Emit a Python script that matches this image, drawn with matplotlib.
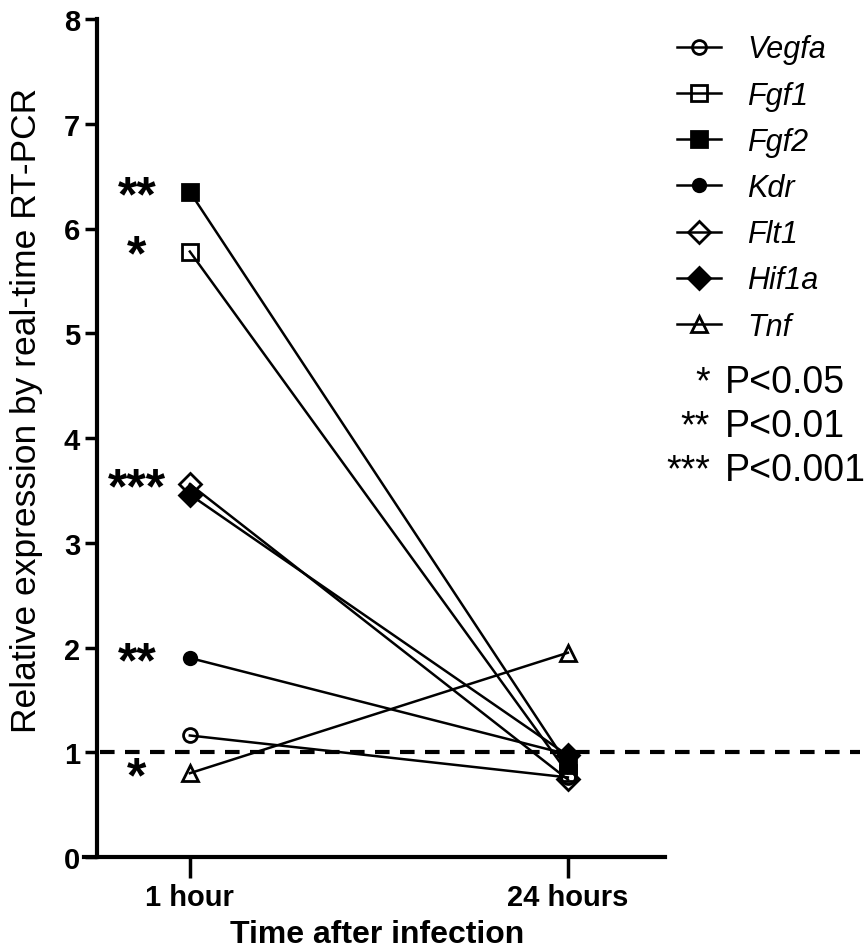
import matplotlib
matplotlib.use("Agg")
import matplotlib.pyplot as plt

# ---- data ----
time_labels = ["1 hour", "24 hours"]
genes = ["Vegfa", "Fgf1", "Fgf2", "Kdr", "Flt1", "Hif1a", "Tnf"]
vegfa = [1.16, 0.76]
fgf1 = [5.78, 0.80]
fgf2 = [6.35, 0.88]
kdr = [1.90, 0.98]
flt1 = [3.56, 0.74]
hif1a = [3.46, 0.97]
tnf = [0.80, 1.95]
series = [vegfa, fgf1, fgf2, kdr, flt1, hif1a, tnf]
significance = ["", "*", "**", "**", "***", "", "*"]
p_stars = ["*", "**", "***"]
p_labels = ["P<0.05", "P<0.01", "P<0.001"]
y_ticks = [0, 1, 2, 3, 4, 5, 6, 7, 8]
baseline = 1.0

# ---- style ----
markers = ["o", "s", "s", "o", "D", "D", "^"]
filled = [False, False, True, True, False, True, False]
msizes = [10, 11, 11, 9, 11, 11, 11]

plt.rcParams["font.family"] = ["Liberation Sans", "DejaVu Sans"]

W, H = 867, 953
fig = plt.figure(figsize=(W / 100, H / 100), dpi=100)
ax_left, ax_right, ax_bottom, ax_top = 84, 665, 858, 20
ax = fig.add_axes([ax_left / W, 1 - ax_bottom / H,
                   (ax_right - ax_left) / W, (ax_bottom - ax_top) / H])

xs = list(range(len(time_labels)))
handles = []
for name, vals, m, f, ms in zip(genes, series, markers, filled, msizes):
    (ln,) = ax.plot(xs, vals, color="black", lw=1.8, marker=m, ms=ms,
                    mew=2.0, markerfacecolor="black" if f else "none",
                    markeredgecolor="black", label=name, clip_on=False,
                    zorder=3)
    handles.append(ln)

# significance markers at 1 hour
for vals, s in zip(series, significance):
    if s:
        ax.annotate(s, (xs[0], vals[0]), xytext=(-38, -3.6),
                    textcoords="offset points", ha="center", va="center",
                    fontsize=36, fontweight="bold")

# dashed reference line
ax.axhline(baseline, xmin=0.028, xmax=1.336, color="black", lw=3,
           ls=(0, (3.5, 2.5)), clip_on=False, zorder=2)

ax.set_xlim(-0.280, 1.257)
ax.set_ylim(0, 8)
ax.set_xticks(xs)
ax.set_xticklabels(time_labels)
ax.set_yticks(y_ticks)
ax.spines["top"].set_visible(False)
ax.spines["right"].set_visible(False)
ax.spines["left"].set_position(("data", -0.246))
for sp in ("left", "bottom"):
    ax.spines[sp].set_linewidth(3)
ax.tick_params(axis="y", length=9, width=2.5, pad=3, labelsize=21)
ax.tick_params(axis="x", length=15, width=2.5, pad=4, labelsize=21)
for lab in ax.get_xticklabels() + ax.get_yticklabels():
    lab.set_fontweight("bold")

fig.text(377 / W, 1 - 935 / H, "Time after infection", ha="center",
         va="center", fontsize=23, fontweight="bold")
fig.text(27 / W, 1 - 410 / H, "Relative expression by real-time RT-PCR",
         rotation=90, ha="center", va="center", fontsize=25.5)

leg = ax.legend(handles=handles, loc="upper left",
                bbox_to_anchor=(677 / W, 1 - 35.5 / H),
                bbox_transform=fig.transFigure, frameon=False,
                borderaxespad=0, borderpad=0, handlelength=1.45,
                handletextpad=0.85, labelspacing=0.53,
                prop={"size": 22, "style": "italic"})

p_y = [383, 427, 471]
for st, pl, py in zip(p_stars, p_labels, p_y):
    fig.text(710 / W, 1 - py / H, st, ha="right", va="center", fontsize=27)
    fig.text(725 / W, 1 - py / H, pl, ha="left", va="center", fontsize=27)

fig.savefig("out.png", dpi=100)
